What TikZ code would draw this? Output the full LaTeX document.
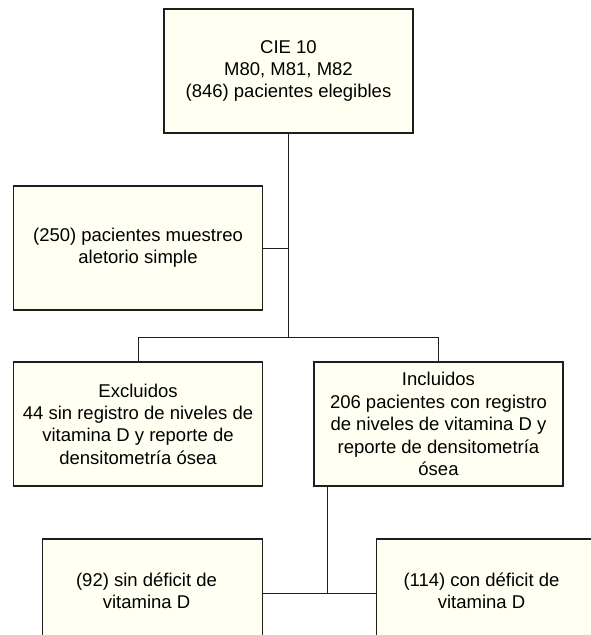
\documentclass[tikz,border=0pt]{standalone}
\usepackage{fontspec}
\setmainfont{Liberation Sans}
\definecolor{cream}{RGB}{255,255,242}
\definecolor{edge}{RGB}{30,30,30}
\begin{document}
\begin{tikzpicture}[x=1pt,y=-1pt,
  box/.style={draw=edge, line width=1.1pt, fill=cream, rectangle, inner sep=0pt,
    minimum width=249pt, minimum height=124pt, align=center,
    font=\fontsize{18.5}{22.4}\selectfont},
  txt/.style={align=center, inner sep=0pt, font=\fontsize{18.5}{22.4}\selectfont},
  link/.style={draw=edge, line width=1pt}]
\clip (0,0) rectangle (591,635);
\fill[white] (0,0) rectangle (591,635);
\node[box] (top) at (288.5,71) {CIE 10\\M80, M81, M82\\(846) pacientes elegibles};
\node[box] (samp) at (138,248) {(250) pacientes muestreo\\aletorio simple};
\node[box] (excl) at (138,424) {Excluidos\\44 sin registro de niveles de\\vitamina D y reporte de\\densitometría ósea};
\node[box] (incl) at (438.5,424) {Incluidos\\206 pacientes con registro\\de niveles de vitamina D y\\reporte de densitometría\\ósea};
\node[box, minimum width=219.5pt, minimum height=104pt,
  label={[txt, name=t92, xshift=-6pt]center:(92) sin déficit de\\vitamina D}] (n92) at (152.5,591) {};
\node[box, minimum width=219.5pt, minimum height=104pt,
  label={[txt, name=t114, xshift=-5pt]center:(114) con déficit de\\vitamina D}] (n114) at (486.5,591) {};
\coordinate (br) at (288,337);
\coordinate (j) at (327,593);
\draw[link] (top.south -| br) -- (br);
\draw[link] (samp.east) -- (samp.east -| br);
\draw[link] (excl.north) -- (excl.north |- br) -- (incl.north |- br) -- (incl.north);
\draw[link] (incl.south -| j) -- (j);
\draw[link] (n92.east |- j) -- (n114.west |- j);
\end{tikzpicture}
\end{document}
